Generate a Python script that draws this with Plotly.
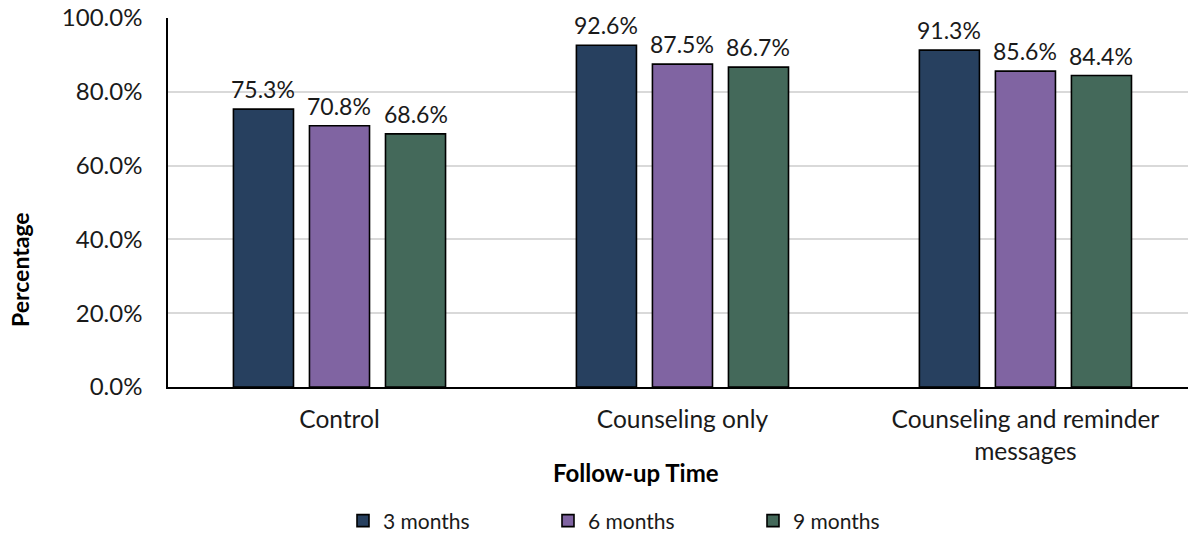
import plotly.graph_objects as go

# Follow-up groups and series
categories = ["Control", "Counseling only", "Counseling and reminder<br>messages"]
months_3 = [75.3, 92.6, 91.3]
months_6 = [70.8, 87.5, 85.6]
months_9 = [68.6, 86.7, 84.4]
series_names = ["3 months", "6 months", "9 months"]
series_colors = ["#27405F", "#8064A2", "#44695A"]
y_ticks = [0, 20, 40, 60, 80, 100]

FONT = "Lato, 'Open Sans', sans-serif"
W, H = 1188, 537
ML, MR, MT, MB = 168, 0, 18, 150
plot_w = W - ML - MR
plot_h = H - MT - MB
X_RANGE = [-0.5, 2.474]
BARGAP, GROUPGAP = 0.335, 0.21

fig = go.Figure()
all_series = [months_3, months_6, months_9]
for name, vals, color in zip(series_names, all_series, series_colors):
    fig.add_trace(go.Bar(
        x=categories,
        y=vals,
        name=name,
        marker=dict(color=color, line=dict(color="black", width=1.6)),
    ))

# value labels above each bar, shifted sideways to the bar's slot in its group
cat_px = plot_w / (X_RANGE[1] - X_RANGE[0])
slot_px = cat_px * (1 - BARGAP) / len(all_series)
for i, vals in enumerate(all_series):
    for cat, v in zip(categories, vals):
        fig.add_annotation(
            x=cat, y=v, xref="x", yref="y",
            text=f"{v:.1f}%",
            showarrow=False,
            xanchor="center", yanchor="middle",
            xshift=(i - (len(all_series) - 1) / 2) * slot_px,
            yshift=20,
            font=dict(family=FONT, size=23, color="#1a1a1a"),
        )

fig.update_layout(
    width=W,
    height=H,
    margin=dict(l=ML, r=MR, t=MT, b=MB),
    paper_bgcolor="white",
    plot_bgcolor="white",
    barmode="group",
    bargap=BARGAP,
    bargroupgap=GROUPGAP,
    font=dict(family=FONT, size=23, color="#1a1a1a"),
    showlegend=True,
    legend=dict(
        orientation="h",
        xref="container", yref="container",
        x=343 / W, xanchor="left",
        y=(H - 521) / H, yanchor="middle",
        font=dict(family=FONT, size=21, color="#1a1a1a"),
        entrywidth=160,
        itemwidth=30,
    ),
    xaxis=dict(
        range=X_RANGE,
        showline=True,
        linecolor="black",
        linewidth=1.5,
        ticks="",
        ticklabelstandoff=10,
        tickfont=dict(family=FONT, size=24.5, color="#1a1a1a"),
    ),
    yaxis=dict(
        range=[0, 100],
        tickvals=y_ticks,
        ticktext=[f"{v:.1f}%" for v in y_ticks],
        showline=True,
        linecolor="black",
        linewidth=1.5,
        showgrid=True,
        gridcolor="#d9d9d9",
        gridwidth=1.5,
        zeroline=False,
        ticks="",
        ticklabelstandoff=19,
        tickfont=dict(family=FONT, size=24, color="#1a1a1a"),
    ),
)

fig.add_annotation(
    text="<b>Percentage</b>",
    x=(20 - ML) / plot_w, y=(H - MB - 270) / plot_h,
    xref="paper", yref="paper",
    xanchor="center", yanchor="middle",
    showarrow=False,
    textangle=-90,
    font=dict(family=FONT, size=23, color="black"),
)
fig.add_annotation(
    text="<b>Follow-up Time</b>",
    x=(636 - ML) / plot_w, y=(H - MB - 472) / plot_h,
    xref="paper", yref="paper",
    xanchor="center", yanchor="middle",
    showarrow=False,
    font=dict(family=FONT, size=24, color="black"),
)

fig.write_html("out.html")
